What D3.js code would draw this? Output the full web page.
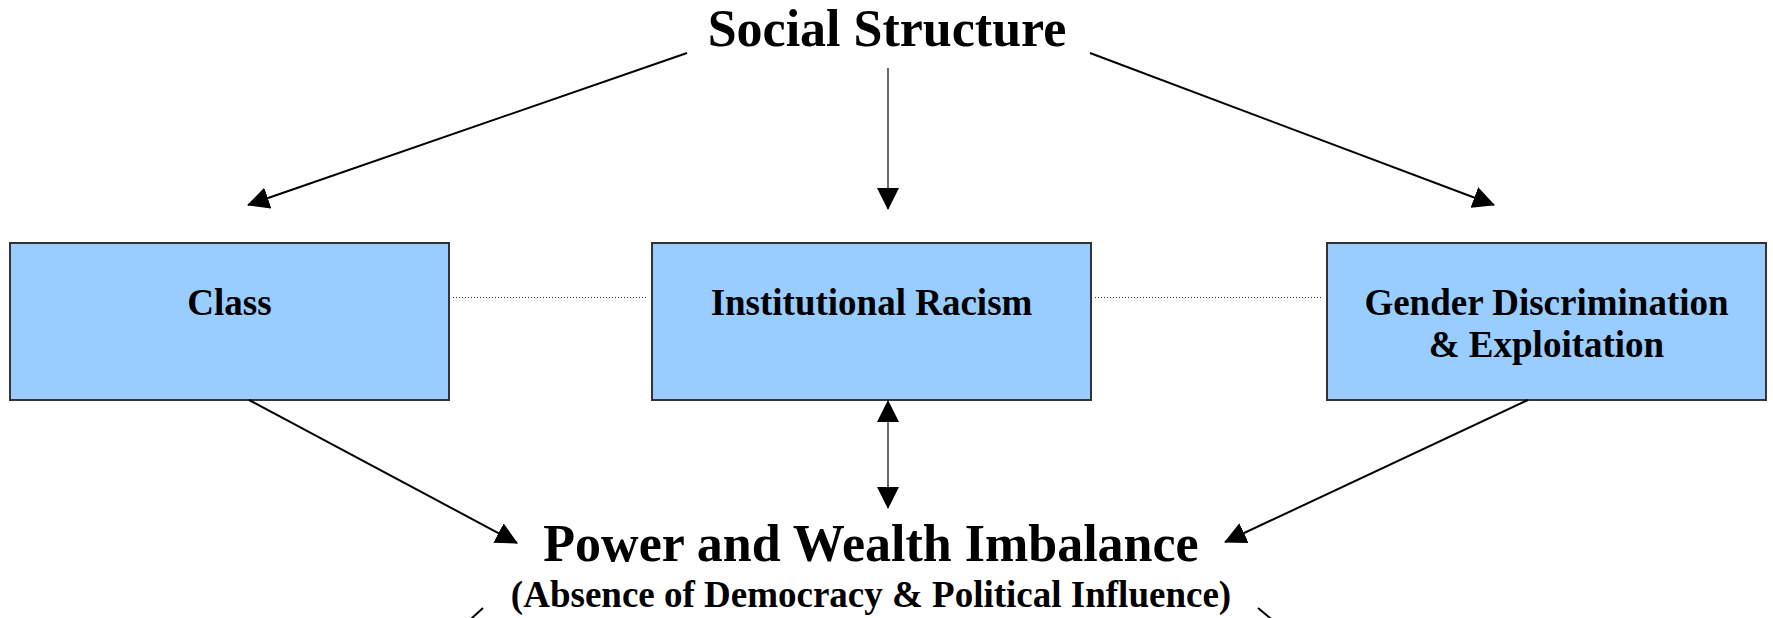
<!DOCTYPE html>
<html>
<head>
<meta charset="utf-8">
<script src="https://cdn.jsdelivr.net/npm/d3@7"></script>
<style>
	body { margin: 0; background: #fff; }
	svg { display: block; }
	.label { font-family: "Liberation Serif", "Times New Roman", serif; font-weight: bold; fill: #000; }
</style>
</head>
<body>
<svg id="svgDiagram" width="1773" height="618"></svg>
<script>
const svg = d3.select('#svgDiagram');

//Diagram content
const rootLabel = 'Social Structure';
const factors = ['Class', 'Institutional Racism', 'Gender Discrimination'];
const factorLines = [['Class'], ['Institutional Racism'], ['Gender Discrimination', '& Exploitation']];
const outcomeLabel = 'Power and Wealth Imbalance';
const outcomeNote = '(Absence of Democracy & Political Influence)';

//Links: root -> factor, factor -> outcome, and dotted ties between factors
const rootLinks = ['Class', 'Institutional Racism', 'Gender Discrimination'];
const outcomeLinks = ['Class', 'Institutional Racism', 'Gender Discrimination'];
const doubleHeaded = ['Institutional Racism'];
const peerLinks = [['Class', 'Institutional Racism'], ['Institutional Racism', 'Gender Discrimination']];
const outgoing = ['left', 'right'];

//Layout
const boxW = 439;
const boxH = 157;
const boxTop = 243;
const boxLeft = d3.scaleOrdinal().domain(factors).range([10, 652, 1327]);
const centerX = 887;

//where each arrow starts and ends
const rootStart = d3.scaleOrdinal().domain(factors).range([[687, 53], [888, 68], [1090, 53]]);
const rootEnd = d3.scaleOrdinal().domain(factors).range([[248, 205], [888, 209], [1494, 205]]);
const outStart = d3.scaleOrdinal().domain(factors).range([[249, boxTop + boxH], [888, boxTop + boxH + 1], [1528, boxTop + boxH]]);
const outEnd = d3.scaleOrdinal().domain(factors).range([[517, 543], [888, 508], [1225, 542]]);
const leaveStart = d3.scaleOrdinal().domain(outgoing).range([[483, 608], [1258, 608]]);
const leaveEnd = d3.scaleOrdinal().domain(outgoing).range([[439, 648], [1306, 648]]);

//Arrowhead marker
const defs = svg.append('defs');
const marker = (id, orient) => {
	defs.append('marker')
		.attr('id', id)
		.attr('viewBox', '0 0 22 22')
		.attr('markerUnits', 'userSpaceOnUse')
		.attr('markerWidth', 22)
		.attr('markerHeight', 22)
		.attr('refX', 21)
		.attr('refY', 11)
		.attr('orient', orient)
		.append('path')
			.attr('d', 'M0,0 L22,11 L0,22 Z')
			.attr('fill', '#000');
};
marker('head', 'auto');
marker('tail', 'auto-start-reverse');

const isVertical = (a, b) => a[0] === b[0];

//Draw an arrow list
const drawArrows = (cls, keys, start, end, both) => {
	svg.selectAll('.' + cls).data(keys)
		.enter().append('line')
			.attr('class', cls)
			.attr('x1', d => start(d)[0])
			.attr('y1', d => start(d)[1])
			.attr('x2', d => end(d)[0])
			.attr('y2', d => end(d)[1])
			.attr('stroke', d => isVertical(start(d), end(d)) ? '#444' : '#000')
			.attr('stroke-width', d => isVertical(start(d), end(d)) ? 1.6 : 2)
			.attr('marker-end', 'url(#head)')
			.attr('marker-start', d => both && both.includes(d) ? 'url(#tail)' : null);
};

//Dotted ties between the boxes
svg.selectAll('.peer').data(peerLinks)
	.enter().append('line')
		.attr('class', 'peer')
		.attr('x1', d => boxLeft(d[0]) + boxW + 4)
		.attr('x2', d => boxLeft(d[1]) - 4)
		.attr('y1', 297.5)
		.attr('y2', 297.5)
		.attr('stroke', '#333')
		.attr('stroke-width', 1)
		.attr('stroke-dasharray', '1,2');

//Boxes
const box = svg.selectAll('.box').data(factors)
	.enter().append('g')
		.attr('class', 'box')
		.attr('transform', d => `translate(${boxLeft(d)},${boxTop})`);

box.append('rect')
	.attr('width', boxW)
	.attr('height', boxH)
	.attr('fill', '#99ccff')
	.attr('stroke', '#333')
	.attr('stroke-width', 2);

box.append('text')
	.attr('class', 'label')
	.attr('text-anchor', 'middle')
	.attr('font-size', 37)
	.selectAll('tspan').data((d, i) => factorLines[i])
	.enter().append('tspan')
		.attr('x', boxW / 2)
		.attr('y', (d, i) => 72 + i * 42)
		.text(d => d);

//Arrows
drawArrows('root-link', rootLinks, rootStart, rootEnd);
drawArrows('out-link', outcomeLinks, outStart, outEnd, doubleHeaded);
drawArrows('leave-link', outgoing, leaveStart, leaveEnd);

//Titles
svg.append('text')
	.attr('class', 'label')
	.attr('x', centerX)
	.attr('y', 46)
	.attr('text-anchor', 'middle')
	.attr('font-size', 52)
	.text(rootLabel);

svg.append('text')
	.attr('class', 'label')
	.attr('x', 871)
	.attr('y', 561)
	.attr('text-anchor', 'middle')
	.attr('font-size', 52)
	.text(outcomeLabel);

svg.append('text')
	.attr('class', 'label')
	.attr('x', 871)
	.attr('y', 607)
	.attr('text-anchor', 'middle')
	.attr('font-size', 37)
	.text(outcomeNote);
</script>
</body>
</html>
